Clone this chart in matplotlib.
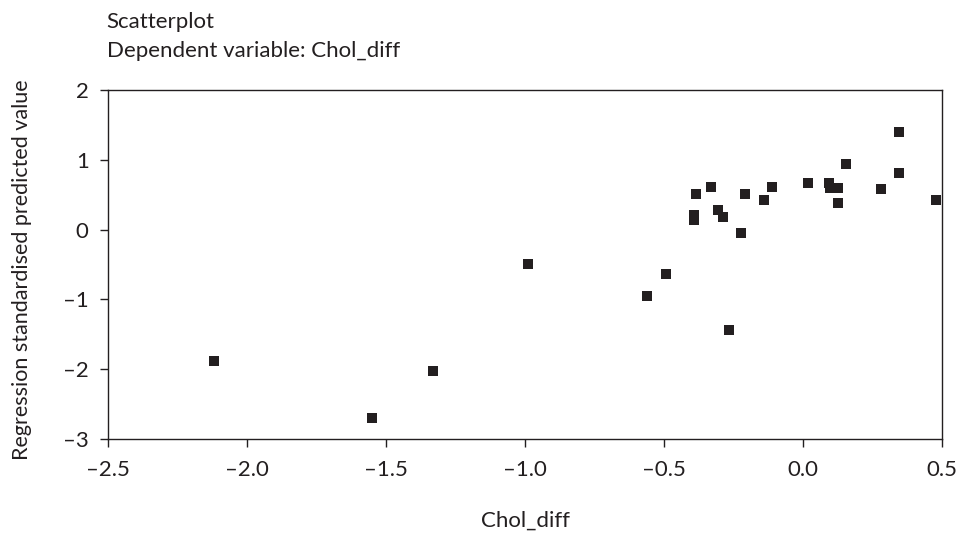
import matplotlib
matplotlib.use('Agg')
import matplotlib.pyplot as plt
from matplotlib.ticker import FuncFormatter

# values
chol_diff = [0.346, 0.155, 0.346, -0.332, -0.385, -0.208, -0.11, -0.14, 0.016,
             0.092, 0.097, 0.126, 0.126, 0.28, 0.478, -0.392, -0.392, -0.306,
             -0.289, -0.222, -0.493, -0.56, -0.267, -0.99, -2.12, -1.55, -1.33]
pred_std = [1.40, 0.935, 0.815, 0.615, 0.51, 0.51, 0.615, 0.424, 0.663,
            0.67, 0.59, 0.59, 0.376, 0.577, 0.424, 0.21, 0.14, 0.28,
            0.185, -0.05, -0.63, -0.95, -1.44, -0.49, -1.89, -2.70, -2.02]
x_ticks = [-2.5, -2.0, -1.5, -1.0, -0.5, 0.0, 0.5]
y_ticks = [-3, -2, -1, 0, 1, 2]

plt.rcParams['font.family'] = ['Lato', 'DejaVu Sans']
ink = '#231f20'
fs = 16

# en dash for negatives, like the original
xfmt = FuncFormatter(lambda v, p: ('%.1f' % v).replace('-', '\u2013'))
yfmt = FuncFormatter(lambda v, p: ('%d' % v).replace('-', '\u2013'))

fig = plt.figure(figsize=(9.62, 5.38), dpi=100)
ax = fig.add_axes([0.1123, 0.184, 0.867, 0.649])
ax.plot(chol_diff, pred_std, 's', color=ink, markersize=7, markeredgewidth=0)

ax.set_xlim(-2.5, 0.5)
ax.set_ylim(-3, 2)
ax.set_xticks(x_ticks)
ax.set_yticks(y_ticks)
ax.xaxis.set_major_formatter(xfmt)
ax.yaxis.set_major_formatter(yfmt)
ax.tick_params(direction='out', length=6, width=1, labelsize=fs, colors=ink)
ax.tick_params(axis='x', pad=9)
ax.tick_params(axis='y', pad=8)
for s in ax.spines.values():
    s.set_color(ink)
    s.set_linewidth(1)

ax.set_xlabel('Chol_diff', fontsize=fs, color=ink)
ax.xaxis.set_label_coords(0.5, -0.205)
ax.set_ylabel('Regression standardised predicted value', fontsize=15.5, color=ink)
ax.yaxis.set_label_coords(-0.091, 0.485)
fig.text(0.111, 0.948, 'Scatterplot', fontsize=fs, color=ink, va='baseline')
fig.text(0.111, 0.894, 'Dependent variable: Chol_diff', fontsize=fs, color=ink, va='baseline')

plt.savefig('out.png', dpi=100)
